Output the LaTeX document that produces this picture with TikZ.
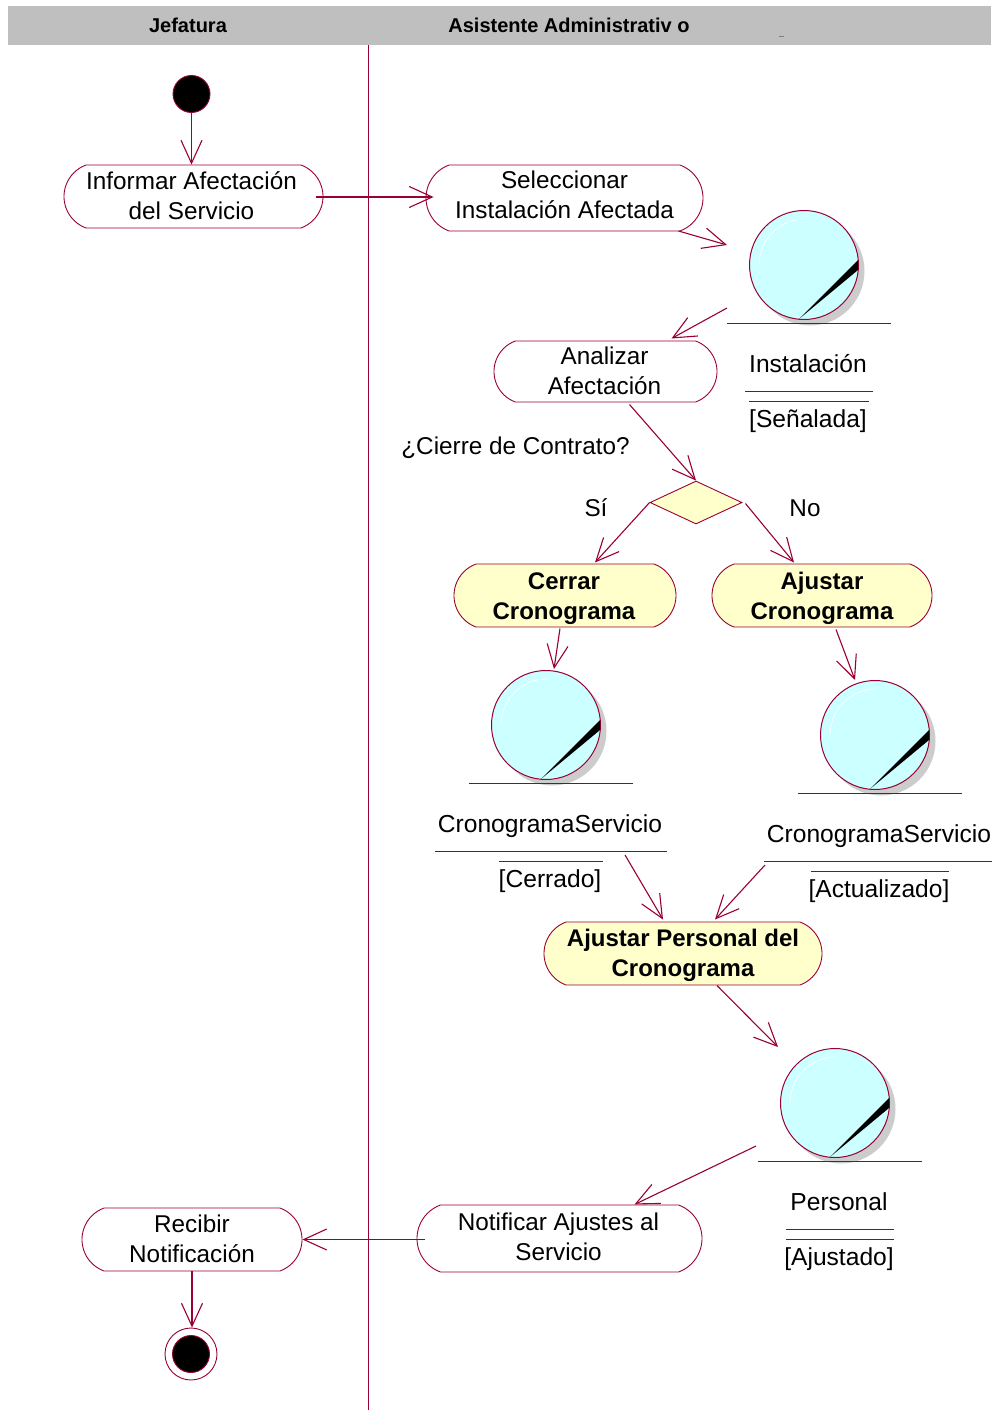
\documentclass[tikz,border=0pt]{standalone}
\usepackage{fontspec}
\setmainfont{Liberation Sans}
\usetikzlibrary{arrows.meta,shapes.misc,shapes.geometric}

\definecolor{umlline}{HTML}{990033}
\definecolor{umlyellow}{HTML}{FFFFCC}
\definecolor{umlcyan}{HTML}{CCFFFF}
\definecolor{umlband}{HTML}{BFBFBF}
\definecolor{umlshadow}{HTML}{CCCCCC}

\tikzset{
	activity/.style={rounded rectangle,rounded rectangle arc length=140,draw=umlline,line width=0.9pt,inner sep=0pt,minimum height=63pt},
	activitytext/.style={align=center,inner sep=0pt,font=\fontsize{24.3}{30}\selectfont},
	choice/.style={activity,fill=umlyellow},
	choicetext/.style={activitytext,font=\fontsize{24}{30}\selectfont\bfseries},
	flow/.style={draw=umlline,line width=1.1pt,-{Straight Barb[length=23pt,width=21pt,line width=1.1pt]}},
	plain/.style={inner sep=0pt,font=\fontsize{24.3}{30}\selectfont},
	objectname/.style={inner sep=0pt,anchor=base,font=\fontsize{24.6}{30}\selectfont},
	objectvalue/.style={inner sep=0pt,font=\fontsize{24.6}{30}\selectfont},
	lanetitle/.style={inner sep=0pt,font=\fontsize{20}{24}\selectfont\bfseries},
	startdot/.style={circle,draw=umlline,fill=black,line width=0.9pt,inner sep=0pt,minimum size=37pt}
}

% object with its state underneath
\newcommand{\objectstate}[7]{
	\fill [umlshadow] (#2+6,#3+6) circle (54.5);
	\node [circle,draw=umlline,fill=umlcyan,line width=1pt,inner sep=0pt,minimum size=109pt] (#1) at (#2,#3) {};
	\fill [black] (#2-5,#3+54) -- (#2+54,#3-5) -- (#2+54,#3+5) -- cycle;
	\draw [white,line width=0.7pt] (#2-45,#3) arc (180:270:46);
	\draw [umlline,line width=1pt] (#2-77,#3+58) -- (#2+87,#3+58);
	\node [objectname] (#1label) at (#2+4,#3+107.5) {#4};
	\draw [umlline,line width=1pt] (#2+5-#5,#3+126) -- (#2+5+#5,#3+126);
	\draw [umlline,line width=1pt] (#2+5-#6,#3+136) -- (#2+5+#6,#3+136);
	\node [objectvalue] (#1state) at (#2+4,#3+156) {#7};
}

\begin{document}
\begin{tikzpicture}[x=1pt,y=-1pt]
	\useasboundingbox (0,0) rectangle (991,1410);
	\fill [umlband] (8,6) rectangle (991,45);
	\draw [gray,line width=0.6pt] (779,36.4) -- (784,36.4);
	\node [lanetitle] (jefatura) at (188,25) {Jefatura};
	\node [lanetitle] (asistente) at (569,25) {Asistente Administrativ o};
	\draw [umlline,line width=1.6pt] (368.6,45) -- (368.6,1410);

	\node [startdot] (inicio) at (191.5,94) {};
	\node [activity,minimum width=259pt,label={[activitytext,xshift=-2pt,yshift=1pt]center:Informar Afectación\\del Servicio}] (informar) at (193.5,196.5) {};
	\node [activity,minimum width=277pt,minimum height=66pt,label={[activitytext,yshift=3pt]center:Seleccionar\\Instalación Afectada}] (seleccionar) at (564.5,198) {};
	\node [activity,minimum width=223pt,minimum height=61pt,label={[activitytext,xshift=-1pt,yshift=1pt]center:Analizar\\Afectación}] (analizar) at (605.5,371.5) {};
	\node [diamond,draw=umlline,fill=umlyellow,line width=0.9pt,inner sep=0pt,minimum width=92pt,minimum height=43pt] (cierre) at (696,502.5) {};
	\node [plain] (pregunta) at (515.5,448) {¿Cierre de Contrato?};
	\node [plain] (si) at (596,508) {Sí};
	\node [plain] (no) at (805,508) {No};
	\node [choice,minimum width=222pt,label={[choicetext,xshift=-1pt,yshift=-3pt]center:Cerrar\\Cronograma}] (cerrar) at (565,595.5) {};
	\node [choice,minimum width=220pt,label={[choicetext,yshift=-3pt]center:Ajustar\\Cronograma}] (ajustar) at (822,595.5) {};
	\node [choice,minimum width=278pt,label={[choicetext,yshift=-2pt]center:Ajustar Personal del\\Cronograma}] (personal) at (683,953.5) {};
	\node [activity,minimum width=285pt,minimum height=67pt,label={[activitytext,xshift=-1pt,yshift=2pt]center:Notificar Ajustes al\\Servicio}] (notificar) at (559.5,1238.5) {};
	\node [activity,minimum width=220pt,label={[activitytext,yshift=1pt]center:Recibir\\Notificación}] (recibir) at (192,1239.5) {};
	\node [circle,draw=umlline,line width=0.9pt,inner sep=0pt,minimum size=52pt] (fin) at (191,1354) {};
	\node [startdot] (findot) at (191,1354) {};

	\objectstate{instalacion}{804}{265}{Instalación}{64}{60}{[Señalada]}
	\objectstate{cerrado}{546}{725}{CronogramaServicio}{116}{52}{[Cerrado]}
	\objectstate{actualizado}{875}{735}{CronogramaServicio}{116}{69}{[Actualizado]}
	\objectstate{ajustado}{835}{1103}{Personal}{54}{54}{[Ajustado]}

	\draw [flow] (inicio.south) to (inicio.south |- informar.north);
	\draw [flow] ([shift={(-7,0.5)}]informar.east) to ([shift={(8,-1)}]seleccionar.west);
	\draw [flow] ([shift={(-25,33)}]seleccionar.east) to ([shift={(-77,-20)}]instalacion.center);
	\draw [flow] ([shift={(-77,43)}]instalacion.center) to ([shift={(66,-33)}]analizar.center);
	\draw [flow] ([shift={(24,33)}]analizar.center) to (cierre.north);
	\draw [flow] (cierre.west) to ([shift={(30,-33)}]cerrar.center);
	\draw [flow] ([shift={(3,1)}]cierre.east) to ([shift={(-28,-33)}]ajustar.center);
	\draw [flow] ([shift={(-5,33)}]cerrar.center) to ([shift={(8,-56)}]cerrado.center);
	\draw [flow] ([shift={(14,34)}]ajustar.center) to ([shift={(-20,-55)}]actualizado.center);
	\draw [flow] ([shift={(79,130)}]cerrado.center) to ([shift={(-20,-34)}]personal.center);
	\draw [flow] ([shift={(-110,130)}]actualizado.center) to ([shift={(32,-34)}]personal.center);
	\draw [flow] ([shift={(34,32)}]personal.center) to ([shift={(-57,-56)}]ajustado.center);
	\draw [flow] ([shift={(-79,43)}]ajustado.center) to ([shift={(75,-34)}]notificar.center);
	\draw [flow] ([shift={(8,1)}]notificar.west) to (recibir.east);
	\draw [flow] (recibir.south) to (recibir.south |- fin.north);
\end{tikzpicture}
\end{document}
